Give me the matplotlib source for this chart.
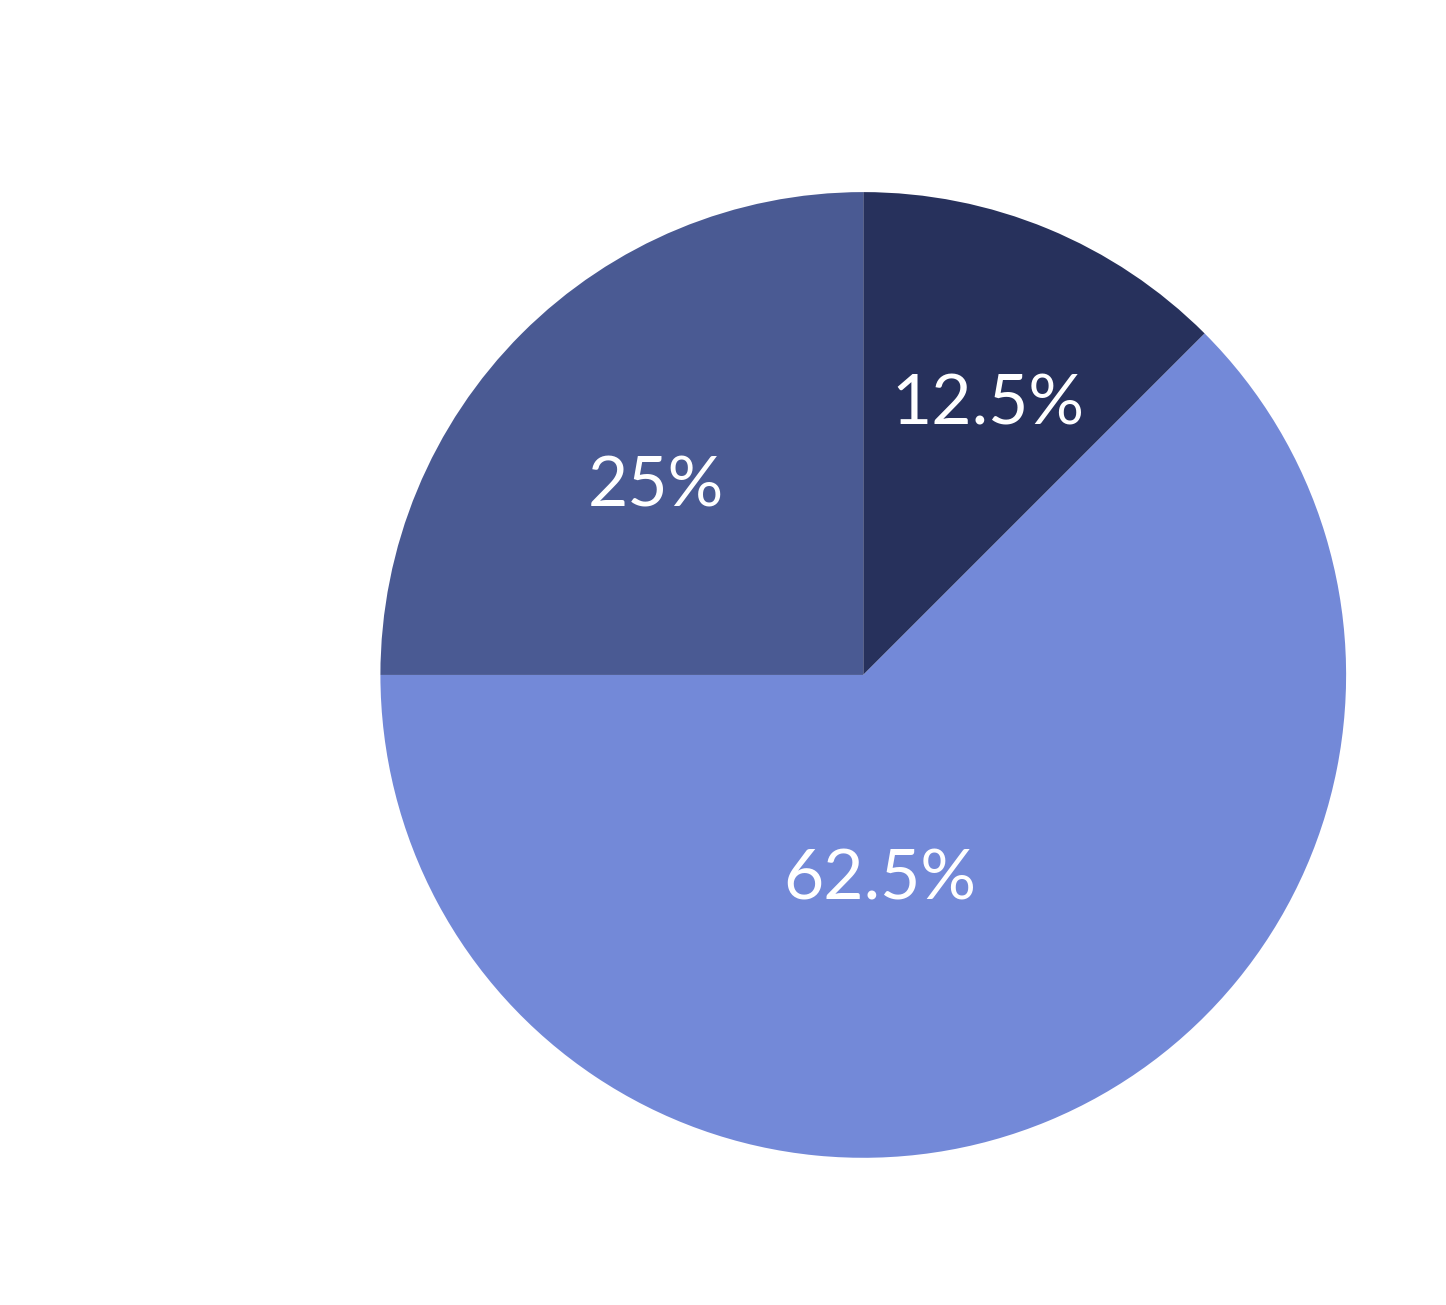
import numpy as np
import matplotlib.pyplot as plt

# Slice data (clockwise from 12 o'clock)
shares = [12.5, 62.5, 25]
labels = ['12.5%', '62.5%', '25%']
colors = ['#27315c', '#7389d8', '#4a5a93']

# radial position of each label, as a fraction of the radius, and its angle tweak
label_radius = [0.615, 0.426, 0.58]
label_angle_shift = [-2.3, -17.8, 2.9]

fig = plt.figure(figsize=(14.46, 13.05), dpi=100)
ax = fig.add_axes([0.597 - 0.334, 0.4828 - 0.370, 0.668, 0.740])

wedges, _ = ax.pie(shares, colors=colors, startangle=90, counterclock=False,
                   radius=1.0, wedgeprops=dict(linewidth=0))
ax.set_aspect('equal')
ax.set_xlim(-1, 1)
ax.set_ylim(-1, 1)
ax.axis('off')

for w, lab, r, da in zip(wedges, labels, label_radius, label_angle_shift):
    ang = np.deg2rad((w.theta1 + w.theta2) / 2 + da)
    ax.text(r * np.cos(ang), r * np.sin(ang), lab, color='white',
            fontsize=50, family=['Lato', 'DejaVu Sans'],
            ha='center', va='center')

fig.savefig('out.png', dpi=100)
